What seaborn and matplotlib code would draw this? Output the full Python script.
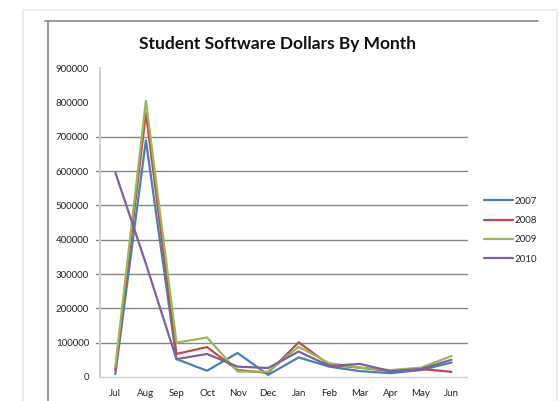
import pandas as pd
import seaborn as sns
from matplotlib import pyplot as plt
from matplotlib.lines import Line2D
from matplotlib.patches import Rectangle

months = ['Jul', 'Aug', 'Sep', 'Oct', 'Nov', 'Dec', 'Jan', 'Feb', 'Mar', 'Apr', 'May', 'Jun']
years = ['2007', '2008', '2009', '2010']
sales_2007 = [8000, 690000, 52000, 18000, 70000, 6000, 57000, 30000, 17000, 11000, 20000, 42000]
sales_2008 = [20000, 769000, 67000, 87000, 20000, 12000, 101000, 35000, 27000, 17000, 23000, 15000]
sales_2009 = [30000, 805000, 100000, 115000, 16000, 15000, 88000, 40000, 27000, 20000, 27000, 61000]
sales_2010 = [596000, 330000, 52000, 67000, 30000, 26000, 74000, 32000, 38000, 17000, 23000, 50000]
y_ticks = [0, 100000, 200000, 300000, 400000, 500000, 600000, 700000, 800000, 900000]

colors = ['#4A7EBB', '#BE4B48', '#98B954', '#7D60A0']

rows = []
for yr, vals in zip(years, [sales_2007, sales_2008, sales_2009, sales_2010]):
    for m, v in zip(months, vals):
        rows.append({'month': m, 'year': yr, 'dollars': v})
df = pd.DataFrame(rows)

sns.set_style('white')
plt.rcParams['font.family'] = ['Lato', 'DejaVu Sans']

fig = plt.figure(figsize=(5.59, 4.01), dpi=100)
ax = fig.add_axes([0.179, 0.060, 0.656, 0.770])

# gridlines (only the lower ones show in the original)
for g in y_ticks[1:8]:
    ax.axhline(g, xmin=-0.012, xmax=1, color='#868686', lw=1.0, clip_on=False, zorder=1)

sns.lineplot(data=df, x='month', y='dollars', hue='year', palette=colors,
             sort=False, linewidth=1.6, ax=ax, legend=False, zorder=3)

ax.set_xlim(-0.5, 11.5)
ax.set_ylim(0, 900000)
ax.set_yticks(y_ticks)
ax.set_yticklabels([str(t) for t in y_ticks], fontsize=7, color='#222222')
ax.set_xticks(range(12))
ax.set_xticklabels(months, fontsize=7, color='#222222')
ax.set_xticks([i - 0.5 for i in range(13)], minor=True)
ax.tick_params(axis='x', which='major', length=0, pad=9)
ax.tick_params(axis='x', which='minor', length=4, color='#c8c8c8', width=1, direction='out')
ax.tick_params(axis='y', length=0, pad=8)
ax.set_xlabel('')
ax.set_ylabel('')
for s in ['top', 'right']:
    ax.spines[s].set_visible(False)
ax.spines['left'].set_color('#d0d0d0')
ax.spines['bottom'].set_color('#d0d0d0')
ax.spines['left'].set_linewidth(1.5)
ax.spines['bottom'].set_linewidth(1.0)

fig.text(0.497, 0.890, 'Student Software Dollars By Month', ha='center', va='center',
         fontsize=12.5, fontweight='bold', color='#111111')

# legend
handles = [Line2D([0], [0], color=c, lw=1.6) for c in colors]
leg = fig.legend(handles, years, loc='center left', bbox_to_anchor=(0.850, 0.426),
                 frameon=False, fontsize=7, handlelength=3.0, handletextpad=0.1,
                 labelspacing=1.06)

# screenshot frame
fig.add_artist(Line2D([45 / 559, 538 / 559], [1 - 21 / 401, 1 - 21 / 401], color='#8a8a8a', lw=1.2))
fig.add_artist(Line2D([48 / 559, 48 / 559], [0, 1 - 21 / 401], color='#8a8a8a', lw=1.2))
fig.add_artist(Rectangle((23 / 559, -0.01), 534 / 559, 1 - 10 / 401 + 0.01, fill=False,
                         edgecolor='#ececec', lw=1.5))

fig.savefig('out.png', dpi=100)
